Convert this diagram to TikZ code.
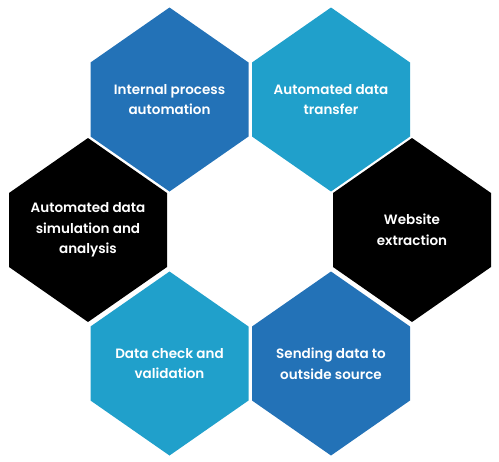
\documentclass[tikz,border=0pt]{standalone}
\usepackage{fontspec}
\setmainfont{Poppins}
\newfontfamily\hexfont{Poppins SemiBold}
\usetikzlibrary{positioning,calc}

\definecolor{hexdark}{RGB}{35,114,183}
\definecolor{hexlight}{RGB}{32,160,203}

\tikzset{
    hextext/.style={text=white, align=center, inner sep=0pt,
        font=\hexfont\fontsize{7.7}{11.8}\selectfont},
}

\begin{document}
\begin{tikzpicture}[x=0.02cm, y=0.02cm]

    \useasboundingbox (0, 0) rectangle (499, 461);

    \def\hw{79}
    \def\hh{92}
    \def\hs{37}

    \coordinate (intern) at (169.5, 361.5);
    \coordinate (transfer) at (331, 361.5);
    \coordinate (simul) at (88, 231);
    \coordinate (website) at (412, 231);
    \coordinate (check) at (169.5, 97.5);
    \coordinate (sending) at (331, 97.5);

    % the six cells
    \foreach \c/\col in {intern/hexdark, transfer/hexlight, simul/black,
                         website/black, check/hexlight, sending/hexdark}
        \fill [\col] (\c) ++(0, \hh) -- ++(\hw, {\hs-\hh}) -- ++(0, {-2*\hs})
            -- ++(-\hw, {\hs-\hh}) -- ++(-\hw, {\hh-\hs}) -- ++(0, {2*\hs}) -- cycle;

    \node [hextext] (internlabel) at (intern) {Internal process\\automation};
    \node [hextext] (transferlabel) at (transfer) {Automated data\\transfer};
    \node [hextext] (simullabel) at (simul) {Automated data\\simulation and\\analysis};
    \node [hextext] (websitelabel) at (website) {Website\\extraction};
    \node [hextext] (checklabel) at (check) {Data check and\\validation};
    \node [hextext] (sendinglabel) at (sending) {Sending data to\\outside source};

\end{tikzpicture}
\end{document}
